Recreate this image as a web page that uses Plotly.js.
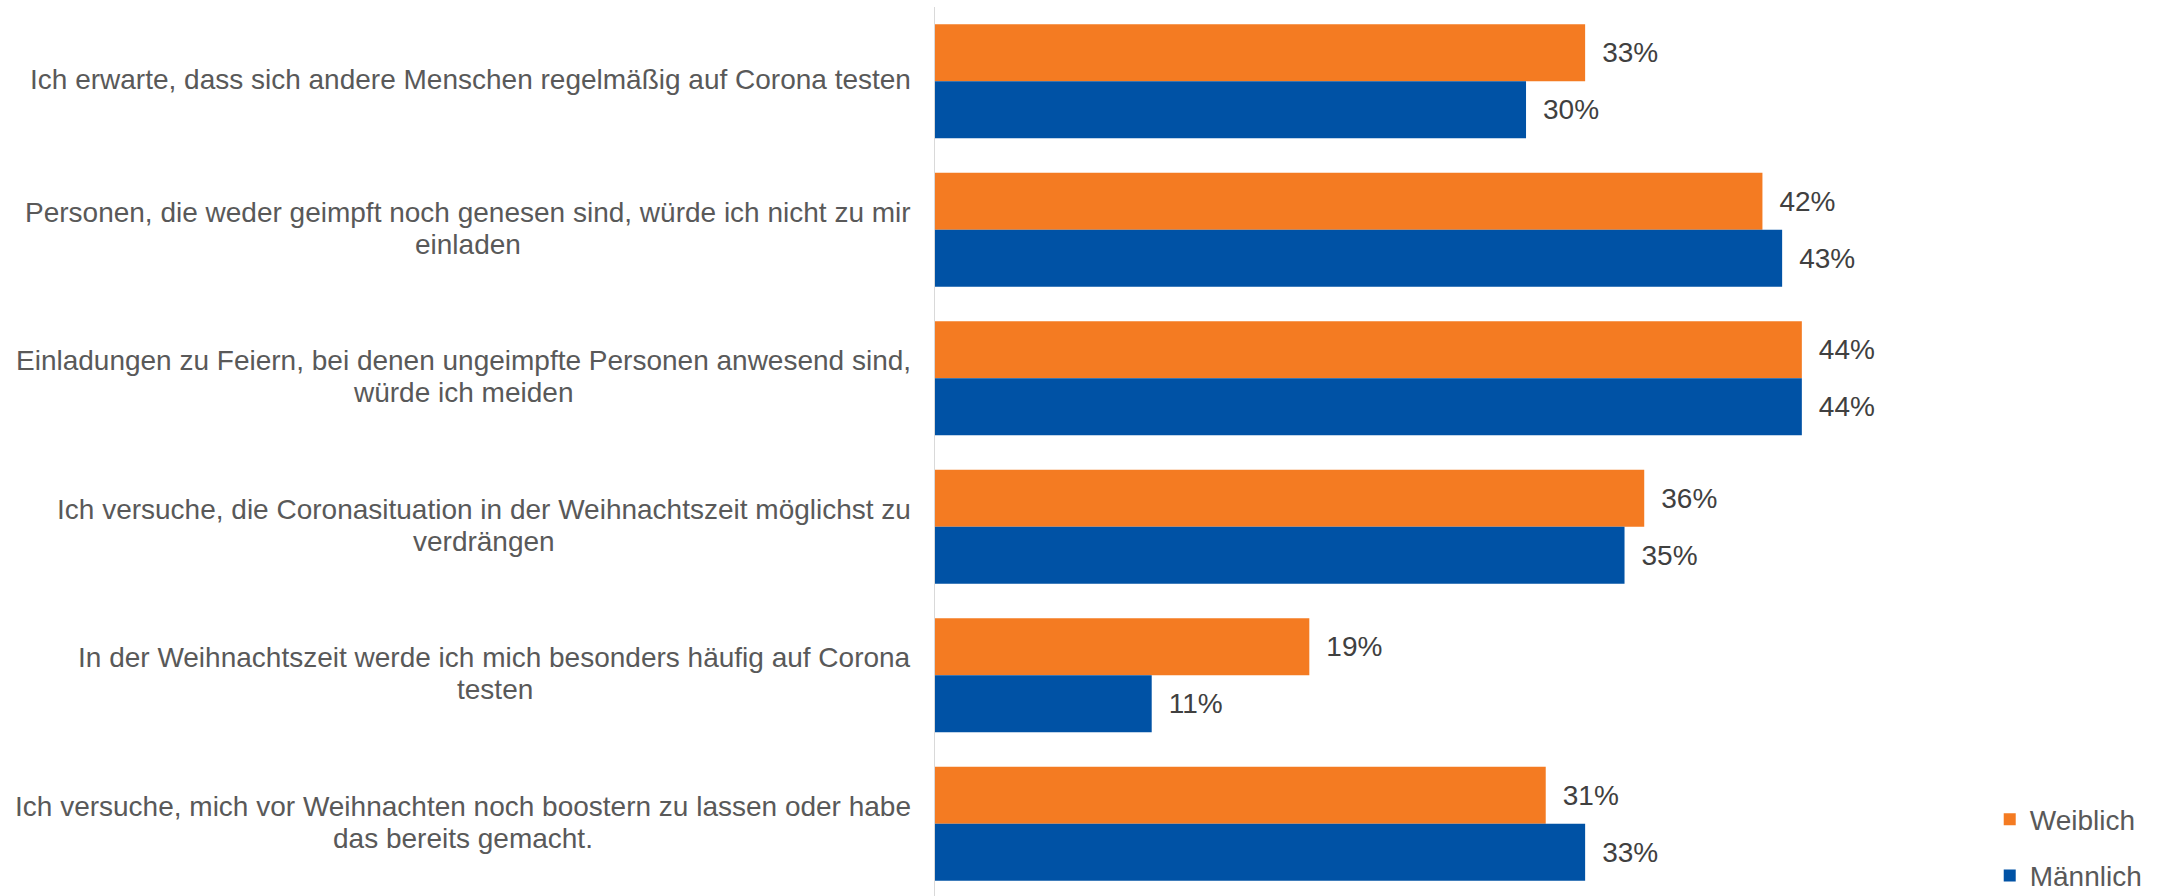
<!DOCTYPE html>
<html>
<head>
<meta charset="utf-8">
<script src="https://cdn.plot.ly/plotly-3.0.1.min.js"></script>
<style>
  html, body { margin: 0; padding: 0; background: #ffffff; overflow: hidden; }
  #chart { width: 2160px; height: 896px; }
</style>
</head>
<body>
<div id="chart"></div>
<script>
const categories = [
  "Ich erwarte, dass sich andere Menschen regelmäßig auf Corona testen",
  "Personen, die weder geimpft noch genesen sind, würde ich nicht zu mir<br>einladen",
  "Einladungen zu Feiern, bei denen ungeimpfte Personen anwesend sind,<br>würde ich meiden",
  "Ich versuche, die Coronasituation in der Weihnachtszeit möglichst zu<br>verdrängen",
  "In der Weihnachtszeit werde ich mich besonders häufig auf Corona<br>testen",
  "Ich versuche, mich vor Weihnachten noch boostern zu lassen oder habe<br>das bereits gemacht."
];
const seriesNames = ["Weiblich", "Männlich"];
const weiblich = [33, 42, 44, 36, 19, 31];
const maennlich = [30, 43, 44, 35, 11, 33];

const FONT = '"Liberation Sans", Arial, sans-serif';
const FS = 28;
const PLOT_LEFT = 935;
const LABEL_RIGHT = 911;
const LINE_GAP = 31.7;

const canvas = document.createElement('canvas');
const ctx = canvas.getContext('2d');
ctx.font = FS + 'px "Liberation Sans", Arial, sans-serif';

const annotations = [];
categories.forEach(function (cat, i) {
  const lines = cat.split('<br>');
  const maxW = Math.max.apply(null, lines.map(function (l) { return ctx.measureText(l).width; }));
  const centerPx = LABEL_RIGHT - maxW / 2;
  const n = lines.length;
  lines.forEach(function (line, j) {
    annotations.push({
      xref: 'paper', x: 0, xshift: centerPx - PLOT_LEFT, xanchor: 'center',
      yref: 'y', y: i, yanchor: 'middle', yshift: ((n - 1) / 2 - j) * LINE_GAP + 1.5,
      text: line, showarrow: false,
      font: { family: FONT, size: FS, color: '#595959' }
    });
  });
});

const common = {
  type: 'bar', orientation: 'h', y: categories,
  texttemplate: '\u2002%{x}%', textposition: 'outside',
  textfont: { family: FONT, size: FS, color: '#404040' },
  cliponaxis: false, constraintext: 'none', hoverinfo: 'skip'
};

const data = [
  Object.assign({}, common, { name: seriesNames[0], x: weiblich, marker: { color: '#F47B22', line: { width: 0 } }, legendgroup: 'w' }),
  Object.assign({}, common, { name: seriesNames[1], x: maennlich, marker: { color: '#0052A5', line: { width: 0 } }, legendgroup: 'm' })
];

const layout = {
  width: 2160, height: 896,
  margin: { l: PLOT_LEFT, r: 0, t: 7, b: 0, pad: 0, autoexpand: false },
  paper_bgcolor: '#ffffff', plot_bgcolor: '#ffffff',
  barmode: 'group', bargap: 0.232, bargroupgap: 0,
  xaxis: { range: [0, 62.18], visible: false, fixedrange: true },
  yaxis: {
    type: 'category', categoryorder: 'array', categoryarray: categories,
    range: [5.487, -0.5], autorange: false,
    showticklabels: false, ticks: '', showgrid: false, zeroline: false,
    showline: true, linecolor: '#D9D9D9', linewidth: 1.5
  },
  showlegend: true,
  legend: {
    x: 0.861, xanchor: 'left', y: 0.1142, yanchor: 'top',
    traceorder: 'grouped', tracegroupgap: 17,
    font: { family: FONT, size: FS, color: '#595959' },
    bgcolor: 'rgba(0,0,0,0)', borderwidth: 0
  },
  annotations: annotations,
  font: { family: FONT, size: FS, color: '#595959' }
};

Plotly.newPlot('chart', data, layout, { displayModeBar: false, staticPlot: true });
</script>
</body>
</html>
